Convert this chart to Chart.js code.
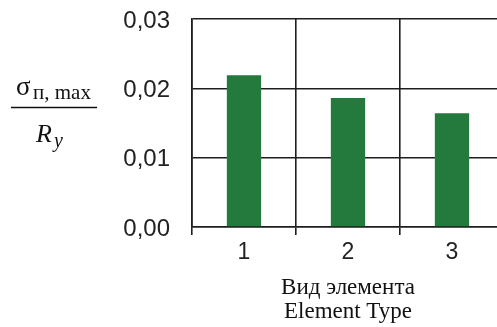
<!DOCTYPE html>
<html>
<head>
<meta charset="utf-8">
<script src="https://cdn.jsdelivr.net/npm/chart.js@4"></script>
<style>
  html, body { margin: 0; padding: 0; background: #ffffff; overflow: hidden; }
  #wrap { width: 497px; height: 327px; overflow: hidden; position: relative; }
  canvas { display: block; }
</style>
</head>
<body>
<div id="wrap"><canvas id="chart" width="512" height="327"></canvas></div>
<script>
// Element types along the x axis
const elementTypes = ['1', '2', '3'];
// Relative stress sigma_p,max / R_y for each element type
const stressRatio = [0.0219, 0.0186, 0.0164];
// Y axis range and tick step
const yMin = 0;
const yMax = 0.03;
const yStep = 0.01;
// Axis titles
const xTitleLines = ['Вид элемента', 'Element Type'];

const barGreen = '#237a3c';
const gridDark = '#1e1e1e';

// Fraction-style y axis title: sigma_{п, max} over R_y
const fractionTitle = {
  id: 'fractionTitle',
  afterDraw(chart) {
    const ctx = chart.ctx;
    ctx.save();
    ctx.fillStyle = '#111111';
    ctx.textBaseline = 'alphabetic';
    ctx.textAlign = 'left';
    // numerator
    ctx.font = '27px "Liberation Serif", "Times New Roman", serif';
    ctx.fillText('σ', 16, 95);
    ctx.font = '21px "Liberation Serif", "Times New Roman", serif';
    ctx.fillText('п, max', 33, 99);
    // fraction bar
    ctx.strokeStyle = '#111111';
    ctx.lineWidth = 1.5;
    ctx.beginPath();
    ctx.moveTo(11, 107.5);
    ctx.lineTo(97, 107.5);
    ctx.stroke();
    // denominator
    ctx.font = 'italic 26px "Liberation Serif", "Times New Roman", serif';
    ctx.fillText('R', 36, 142);
    ctx.font = 'italic 20px "Liberation Serif", "Times New Roman", serif';
    ctx.fillText('y', 54, 147);
    ctx.restore();
  }
};

new Chart(document.getElementById('chart'), {
  type: 'bar',
  data: {
    labels: elementTypes,
    datasets: [{
      data: stressRatio,
      backgroundColor: barGreen,
      borderWidth: 0,
      categoryPercentage: 1.0,
      barPercentage: 0.33
    }]
  },
  options: {
    responsive: false,
    animation: false,
    devicePixelRatio: 1,
    layout: { padding: { top: 19, right: 8, bottom: 0, left: 0 } },
    plugins: {
      legend: { display: false },
      tooltip: { enabled: false },
      title: { display: false }
    },
    scales: {
      x: {
        offset: true,
        grid: {
          offset: true,
          color: gridDark,
          lineWidth: 1.6,
          drawTicks: true,
          tickLength: 8,
          tickColor: gridDark,
          tickWidth: 1.6
        },
        border: { display: true, color: gridDark, width: 1.6 },
        ticks: {
          color: '#222222',
          padding: 4,
          font: { family: '"Liberation Sans", Arial, sans-serif', size: 23 }
        },
        title: {
          display: true,
          text: xTitleLines,
          color: '#111111',
          padding: { top: 0, bottom: 3 },
          font: { family: '"Liberation Serif", "Times New Roman", serif', size: 23, lineHeight: 1.05 }
        },
        afterFit(scale) {
          scale.height = 100;
          scale.paddingLeft = 0;
          scale.paddingRight = 0;
        }
      },
      y: {
        min: yMin,
        max: yMax,
        grid: {
          color: gridDark,
          lineWidth: 1.6,
          drawTicks: false
        },
        border: { display: true, color: gridDark, width: 1.6 },
        ticks: {
          stepSize: yStep,
          color: '#222222',
          padding: 22,
          labelOffset: 2,
          font: { family: '"Liberation Sans", Arial, sans-serif', size: 24 },
          callback: (v) => Number(v).toFixed(2).replace('.', ',')
        },
        afterFit(scale) {
          scale.width = 192;
          scale.paddingTop = 0;
          scale.paddingBottom = 0;
        }
      }
    }
  },
  plugins: [fractionTitle]
});
</script>
</body>
</html>
